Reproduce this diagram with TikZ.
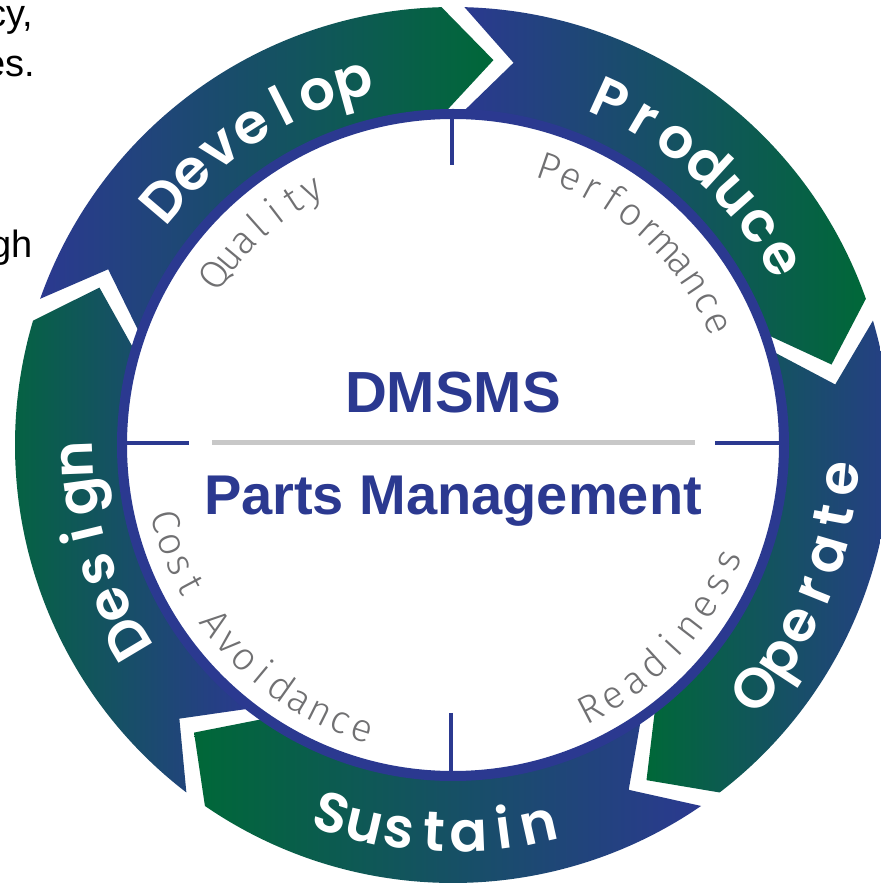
\documentclass[tikz,border=0pt]{standalone}
\usepackage{fontspec}
\setmainfont{Liberation Sans}
\IfFontExistsTF{Poppins SemiBold}
  {\newfontfamily\segfontA{Poppins SemiBold}\def\segfont{\segfontA}}
  {\newfontfamily\segfontA{Poppins}\def\segfont{\segfontA\bfseries}}
\IfFontExistsTF{Fira Sans Light}
  {\newfontfamily\lightfont{Fira Sans Light}}
  {\newfontfamily\lightfont{Fira Sans}}
\definecolor{navy}{RGB}{43,57,144}
\definecolor{grn}{RGB}{0,104,56}
\definecolor{lblgray}{RGB}{112,112,114}
\definecolor{linegray}{RGB}{200,200,200}

\newdimen\arcacc \newdimen\arctrk \newdimen\arctmp \newcount\arcn \newsavebox\arcbox
\makeatletter
\newcommand\arcnum[1]{\strip@pt#1}
\makeatother
% #1 id, #2 style, #3 baseline radius, #4 centre angle, #5 dir (+1 ccw, -1 cw), #6 arc length, #7 letters
\newcommand\arclabel[7]{%
  \global\arcacc=0pt \global\arcn=0
  \foreach \ch in {#7}{\sbox\arcbox{#2\ch}\global\advance\arcacc by \wd\arcbox \global\advance\arcn by 1 }%
  \global\arctrk=#6pt
  \global\advance\arctrk by -\arcacc
  \global\divide\arctrk by \numexpr\arcn-1\relax
  \global\arcacc=#6pt
  \global\arcacc=-0.5\arcacc
  \foreach \ch [count=\i] in {#7}{%
    \sbox\arcbox{#2\ch}%
    \arctmp=\arcacc \advance\arctmp by 0.5\wd\arcbox
    \edef\arcpos{\arcnum\arctmp}%
    \pgfmathsetmacro\arcang{#4+(#5)*(\arcpos)/(#3)*57.29578}%
    \pgfmathsetmacro\arcrot{\arcang+(#5)*90}%
    \node[anchor=base, inner sep=0pt, rotate=\arcrot] (#1-\i) at (\arcang:#3pt) {#2\ch};
    \global\advance\arcacc by \wd\arcbox
    \global\advance\arcacc by \arctrk
  }%
}
\newcommand\segstyle{\segfont\fontsize{56}{56}\selectfont\color{white}}
\newcommand\lblstyle{\lightfont\fontsize{39}{39}\selectfont\color{lblgray}}

\begin{document}
\begin{tikzpicture}[x=1pt,y=1pt]
\path[use as bounding box] (0,0) rectangle (881,887);
\clip (0,0) rectangle (881,887);
\fill[white] (0,0) rectangle (881,887);

% clipped page text at left
\begin{scope}[every node/.style={anchor=base east, inner sep=0pt, font=\fontsize{38}{38}\selectfont}]
\node (t1) at (33,860) {cy,};
\node (t2) at (35,810) {es.};
\node (t3) at (33,629) {gh};
\end{scope}

\begin{scope}[shift={(453,442)}]
% arrow segments
\foreach \sh/\lc/\rc in {91.5/navy/grn, 19.5/navy/grn, -52.5/grn/navy, -124.5/grn/navy, -196.5/grn/navy}{
  \pgfmathsetmacro\st{\sh+69}
  \pgfmathsetmacro\sht{\sh-7.5}
  \pgfmathsetmacro\stn{\st-7.5}
  \shade[left color=\lc, right color=\rc]
    (\st:438pt) arc[start angle=\st, end angle=\sh, radius=438pt]
    -- (\sht:387pt) -- (\sh:332pt)
    arc[start angle=\sh, end angle=\st, radius=332pt]
    -- (\stn:387pt) -- cycle;
}
% inner navy ring
\fill[navy, even odd rule] (0,0) circle[radius=336pt] (0,0) circle[radius=326pt];

% cross lines
\draw[linegray, line width=5pt] (-241,2) -- (242,2);
\draw[navy, line width=3.5pt] (-328,2) -- (-264,2);
\draw[navy, line width=3.5pt] (262,2) -- (328,2);
\draw[navy, line width=3.5pt] (-1,328) -- (-1,280);
\draw[navy, line width=3.5pt] (-2,-268) -- (-2,-328);

% segment labels
\arclabel{develop}{\segstyle}{360}{122.5}{-1}{215}{D,e,v,e,l,o,p}
\arclabel{produce}{\segstyle}{360}{47.6}{-1}{225}{P,r,o,d,u,c,e}
\arclabel{operate}{\segstyle}{407}{-21.9}{1}{240}{O,p,e,r,a,t,e}
\arclabel{sustain}{\segstyle}{407}{267.2}{1}{220}{S,u,s,t,a,i,n}
\arclabel{design}{\segstyle}{360}{196.5}{-1}{180}{D,e,s,i,g,n}

% inner labels
\arclabel{quality}{\lblstyle}{280}{131.7}{-1}{125}{Q,u,a,l,i,t,y}
\arclabel{perf}{\lblstyle}{280}{47.8}{-1}{225}{P,e,r,f,o,r,m,a,n,c,e}
\arclabel{ready}{\lblstyle}{310}{-42.6}{1}{215}{R,e,a,d,i,n,e,s,s}
\arclabel{cost}{\lblstyle}{310}{223.6}{1}{310}{C,o,s,t,~,A,v,o,i,d,a,n,c,e}
\end{scope}

% centre titles
\node[anchor=base, inner sep=0pt, text=navy, font=\bfseries\fontsize{58}{58}\selectfont] (dmsms) at (453,474) {DMSMS};
\node[anchor=base, inner sep=0pt, text=navy, font=\bfseries\fontsize{56}{56}\selectfont] (pm) at (453,372) {Parts Management};
\end{tikzpicture}
\end{document}
